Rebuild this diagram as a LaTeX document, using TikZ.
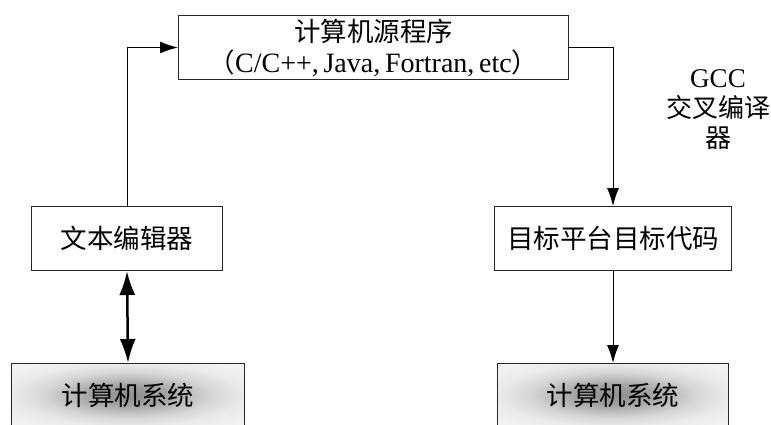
\documentclass[tikz,border=0pt]{standalone}
\usepackage{fontspec}
\setmainfont{Liberation Serif}
\newfontfamily\cjk{Noto Sans CJK SC}
\usetikzlibrary{arrows.meta}
\pgfdeclareradialshading{sysshade}{\pgfpoint{0bp}{0bp}}{%
  color(0bp)=(black!45); color(8bp)=(black!36); color(18bp)=(black!16); color(25bp)=(black!8); color(35bp)=(black!4); color(50bp)=(black!4)}
\begin{document}
\begin{tikzpicture}[x=1pt,y=-1pt,
  box/.style={draw=black!85, line width=1pt, inner sep=0pt, anchor=north west,
    font=\cjk\fontsize{26.5}{33}\selectfont, align=center},
  sysbox/.style={box, shading=sysshade},
  conn/.style={draw=black, line width=1pt, -{Latex[length=18pt,width=12pt]}},
  dbl/.style={draw=black, line width=2.5pt, {Latex[length=24pt,width=16pt]}-{Latex[length=24pt,width=16pt]}},
  lab/.style={font=\cjk\fontsize{26}{30}\selectfont, align=center, inner sep=0pt}]
\useasboundingbox (0,0) rectangle (771,424);
\clip (0,0) rectangle (771,424);
\node[box, minimum width=390pt, minimum height=64pt] (src) at (178,15)
  {计算机源程序\\[-2pt]（{\rmfamily\fontsize{28}{33}\selectfont C/C++,\,Java,\,Fortran,\,etc}）};
\node[box, minimum width=191pt, minimum height=64pt] (editor) at (31,206) {文本编辑器};
\node[box, minimum width=237pt, minimum height=64pt] (target) at (494,206) {目标平台目标代码};
\node[sysbox, minimum width=233pt, minimum height=63pt] (sysL) at (11,363) {计算机系统};
\node[sysbox, minimum width=231pt, minimum height=63pt] (sysR) at (497,363) {计算机系统};
\node[lab] (gcc) at (718,110) {{\rmfamily\fontsize{27}{30}\selectfont GCC}\\交叉编译\\器};
\draw[conn] (editor.north) |- (src.west);
\draw[conn] (src.east) -| (target.north);
\draw[conn] (target.south) -- (sysR.north);
\draw[dbl] (editor.south) -- (sysL.north);
\end{tikzpicture}
\end{document}
